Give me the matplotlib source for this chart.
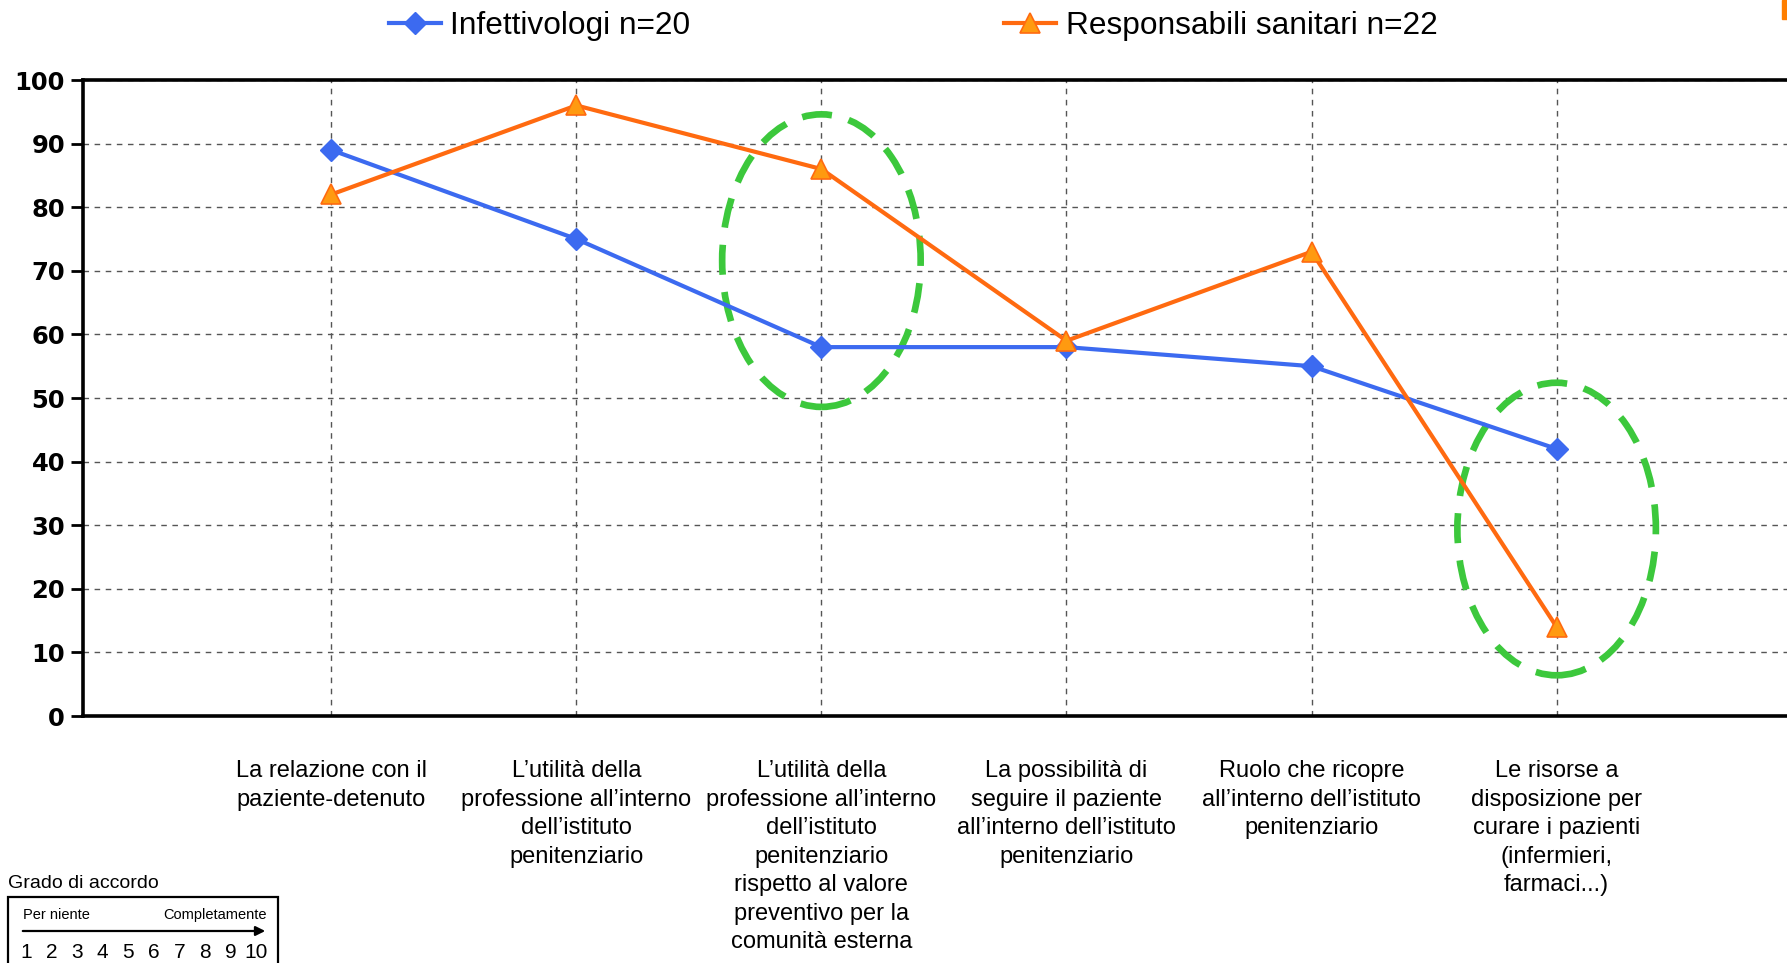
import matplotlib
matplotlib.use("Agg")
import matplotlib.pyplot as plt
import numpy as np
from matplotlib.patches import Ellipse, Rectangle, FancyArrowPatch

# data
categories = [
    "La relazione con il\npaziente-detenuto",
    "L\u2019utilità della\nprofessione all\u2019interno\ndell\u2019istituto\npenitenziario",
    "L\u2019utilità della\nprofessione all\u2019interno\ndell\u2019istituto\npenitenziario\nrispetto al valore\npreventivo per la\ncomunità esterna",
    "La possibilità di\nseguire il paziente\nall\u2019interno dell\u2019istituto\npenitenziario",
    "Ruolo che ricopre\nall\u2019interno dell\u2019istituto\npenitenziario",
    "Le risorse a\ndisposizione per\ncurare i pazienti\n(infermieri,\nfarmaci...)",
]
infettivologi = [89, 75, 58, 58, 55, 42]
responsabili = [82, 96, 86, 59, 73, 14]
label_inf = "Infettivologi n=20"
label_resp = "Responsabili sanitari n=22"
yticks = list(range(0, 101, 10))
scale_labels = [str(i) for i in range(1, 11)]
# green circles: (category, centre value)
highlight = [(3, 71.6), (6, 29.4)]

blue = "#3C6AF0"
orange = "#FF6A10"
orange_fill = "#FF9A10"
green = "#3CC83C"
label_font = "Liberation Sans"

W, H = 1787, 963
fig = plt.figure(figsize=(W / 100, H / 100), dpi=100)
ax = fig.add_axes([83 / W, 1 - 716 / H, 1 - 83 / W, 636 / H])

x = np.arange(1, len(categories) + 1)
l1, = ax.plot(x, infettivologi, color=blue, lw=3, marker="D", ms=11.5,
              mfc=blue, mec=blue, label=label_inf, zorder=5)
l2, = ax.plot(x, responsabili, color=orange, lw=3, marker="^", ms=14,
              mfc=orange_fill, mec=orange, mew=1.2, label=label_resp, zorder=5)

for c, yc in highlight:
    e = Ellipse((c, yc), 0.81, 46, fill=False, ec=green, lw=4.8,
                ls=(0, (4.5, 2.6)), zorder=4)
    ax.add_patch(e)

ax.set_xlim(-0.013, 6.94)
ax.set_ylim(0, 100)
ax.set_yticks(yticks)
ax.set_xticks(x)
ax.set_xticklabels(categories, fontsize=17, family=label_font, linespacing=1.38)
for t in ax.get_yticklabels():
    t.set_fontweight("bold")
ax.tick_params(axis="y", labelsize=17.5, length=9, width=2, pad=4)
ax.tick_params(axis="x", length=0, pad=32)

ax.grid(True, color="#555555", ls=(0, (4, 4)), lw=1)
for s in ["left", "bottom", "top"]:
    ax.spines[s].set_linewidth(2.6)
    ax.spines[s].set_color("black")
ax.spines["right"].set_visible(False)

fig.legend(handles=[l1, l2], loc="center", bbox_to_anchor=(0.511, 1 - 26 / H),
           ncol=2, frameon=False, prop={"family": label_font, "size": 22.8},
           handlelength=1.65, handletextpad=0.3, columnspacing=9.9)

# small orange mark at top-right corner
fig.patches.append(Rectangle((1782 / W, 1 - 19 / H), 5 / W, 19 / H,
                             transform=fig.transFigure, color="#FF7F00"))

# agreement scale box
fig.text(8 / W, 1 - 883 / H, "Grado di accordo", fontsize=14, family=label_font,
         va="center", ha="left")
fig.patches.append(Rectangle((8 / W, 1 - 975 / H), 270 / W, 78 / H, fill=False,
                             ec="black", lw=1.6, transform=fig.transFigure))
fig.text(23 / W, 1 - 915 / H, "Per niente", fontsize=10.5, family=label_font, va="center")
fig.text(267 / W, 1 - 915 / H, "Completamente", fontsize=10.5, family=label_font,
         va="center", ha="right")
fig.patches.append(FancyArrowPatch((20 / W, 1 - 931 / H), (268 / W, 1 - 931 / H),
                                   transform=fig.transFigure, arrowstyle="-|>",
                                   mutation_scale=14, lw=1.6, color="black"))
pos = np.linspace(26, 256, len(scale_labels))
for p, s in zip(pos, scale_labels):
    fig.text(p / W, 1 - 952 / H, s, fontsize=15, family=label_font,
             va="center", ha="center")

fig.savefig("out.png", dpi=100)
